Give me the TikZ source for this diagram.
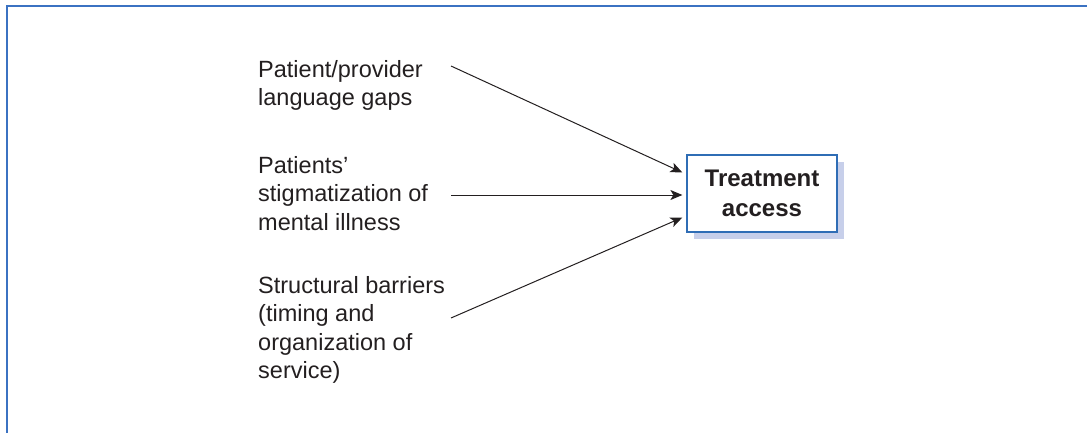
\documentclass[tikz,border=0pt]{standalone}
\usepackage{fontspec}
\setmainfont{Liberation Sans}
\usetikzlibrary{arrows.meta,shadows}
\definecolor{frameblue}{HTML}{3B72C2}
\definecolor{boxblue}{HTML}{2F6DB5}
\definecolor{shadeblue}{HTML}{C7CFEA}
\definecolor{ink}{HTML}{231F20}
\begin{document}
\begin{tikzpicture}[x=1pt,y=-1pt,
  factor/.style={anchor=north west,inner sep=0pt,align=left,text=ink,
    font=\fontsize{23.5}{28.4}\selectfont},
  outcome/.style={draw=boxblue,line width=1.2pt,fill=white,
    minimum width=150pt,minimum height=77pt,align=center,text=ink,
    font=\fontsize{24}{29.5}\selectfont\bfseries,
    drop shadow={shadow xshift=7pt,shadow yshift=-7pt,fill=shadeblue,opacity=1}},
  link/.style={draw=ink,line width=1pt,-{Stealth[length=12pt,width=10pt,inset=3pt]}}]
  \useasboundingbox (0,0) rectangle (1087,433);
  % open frame: top and left edges only
  \draw[frameblue,line width=1.6pt] (7,433) -- (7,6) -- (1087,6);

  % influencing factors
  \node[factor] (lang) at (258,60) {Patient/provider\\language gaps};
  \node[factor] (stigma) at (258,156) {Patients'\\stigmatization of\\mental illness};
  \node[factor] (struct) at (258,276) {Structural barriers\\(timing and\\organization of\\service)};

  % outcome box
  \node[outcome] (access) at (762,193.5) {Treatment\\access};

  % arrow tails beside the labels
  \coordinate (t1) at (451,66);
  \coordinate (t2) at (451,195);
  \coordinate (t3) at (451,318);

  \draw[link] (t1) -- ([xshift=-4pt,yshift=21pt]access.west);
  \draw[link] (t2) -- ([xshift=-4pt,yshift=-1.5pt]access.west);
  \draw[link] (t3) -- ([xshift=-4pt,yshift=-24pt]access.west);
\end{tikzpicture}
\end{document}
